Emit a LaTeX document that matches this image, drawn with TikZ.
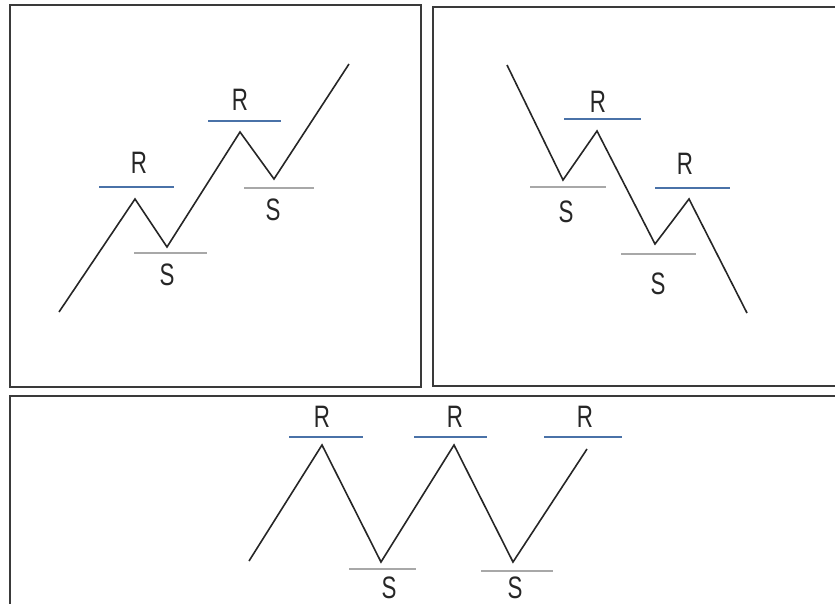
\documentclass[tikz,border=0pt]{standalone}
\usepackage{fontspec}
\setmainfont[FakeStretch=0.72]{Liberation Sans}
\usetikzlibrary{positioning}
\definecolor{cRes}{HTML}{4A72A8}
\definecolor{cSup}{HTML}{A8A8A8}
\definecolor{cFrame}{HTML}{3A3A3A}
\newcommand{\lblfont}{\fontsize{31}{33}\selectfont}

\begin{document}
\begin{tikzpicture}[x=1pt,y=-1pt,
    frame/.style={draw=cFrame,line width=1.9pt},
    price/.style={draw=black!85,line width=1.6pt},
    reslevel/.style={draw=cRes,line width=1.8pt},
    suplevel/.style={draw=cSup,line width=1.8pt},
    lbl/.style={inner sep=0pt,text=black!85,font=\lblfont}]
  \useasboundingbox (0,0) rectangle (835,604);
  \clip (0,0) rectangle (835,604);

  % panels
  \draw[frame] (10,5) rectangle (421,387);
  \draw[frame] (433,7) rectangle (850,386);
  \draw[frame] (10,396) rectangle (850,620);

  % uptrend
  \coordinate (up0) at (59,312);
  \coordinate (up1) at (135,199);
  \coordinate (up2) at (167,247);
  \coordinate (up3) at (240,132);
  \coordinate (up4) at (274,179);
  \coordinate (up5) at (349,64);
  \draw[price] (up0) -- (up1) -- (up2) -- (up3) -- (up4) -- (up5);
  \draw[reslevel] (99,187) -- (174,187);
  \draw[reslevel] (208,121) -- (281,121);
  \draw[suplevel] (134,253) -- (207,253);
  \draw[suplevel] (244,188) -- (314,188);
  \node[lbl] (upR1) at (139,163) {R};
  \node[lbl] (upR2) at (240,100) {R};
  \node[lbl] (upS1) at (167,275) {S};
  \node[lbl] (upS2) at (273,210) {S};

  % downtrend
  \coordinate (dn0) at (507,65);
  \coordinate (dn1) at (563,180);
  \coordinate (dn2) at (597,131);
  \coordinate (dn3) at (655,244);
  \coordinate (dn4) at (689,199);
  \coordinate (dn5) at (747,313);
  \draw[price] (dn0) -- (dn1) -- (dn2) -- (dn3) -- (dn4) -- (dn5);
  \draw[reslevel] (564,119) -- (641,119);
  \draw[reslevel] (655,188) -- (730,188);
  \draw[suplevel] (530,187) -- (606,187);
  \draw[suplevel] (621,254) -- (696,254);
  \node[lbl] (dnR1) at (598,102) {R};
  \node[lbl] (dnR2) at (685,164) {R};
  \node[lbl] (dnS1) at (566,212) {S};
  \node[lbl] (dnS2) at (658,284) {S};

  % sideways
  \coordinate (sw0) at (249,561);
  \coordinate (sw1) at (322,445);
  \coordinate (sw2) at (381,562);
  \coordinate (sw3) at (454,445);
  \coordinate (sw4) at (513,562);
  \coordinate (sw5) at (587,449);
  \draw[price] (sw0) -- (sw1) -- (sw2) -- (sw3) -- (sw4) -- (sw5);
  \draw[reslevel] (289,437) -- (363,437);
  \draw[reslevel] (414,437) -- (487,437);
  \draw[reslevel] (544,437) -- (622,437);
  \draw[suplevel] (349,569) -- (416,569);
  \draw[suplevel] (481,571) -- (553,571);
  \node[lbl] (swR1) at (322,417) {R};
  \node[lbl] (swR2) at (455,417) {R};
  \node[lbl] (swR3) at (585,417) {R};
  \node[lbl] (swS1) at (389,588) {S};
  \node[lbl] (swS2) at (515,588) {S};
\end{tikzpicture}
\end{document}
